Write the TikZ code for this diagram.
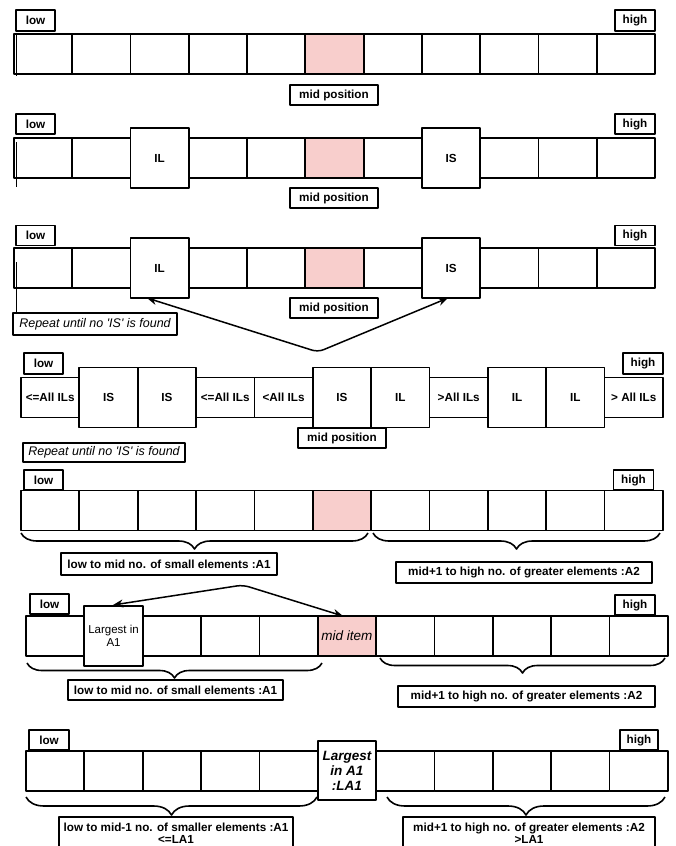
\documentclass[tikz,border=0pt]{standalone}
\usepackage{fontspec}
\setmainfont{Liberation Sans}
\usetikzlibrary{arrows.meta,decorations.pathreplacing}
\definecolor{midpink}{RGB}{248,206,204}
\tikzset{
 slot/.style={draw, line width=1.7pt, minimum width=58.4pt, minimum height=40pt, inner sep=0pt, outer sep=0pt, font=\fontsize{11.7}{13}\selectfont\bfseries},
 bigslot/.style={slot, fill=white, minimum height=60pt},
 tag/.style={draw, line width=1.6pt, minimum height=20pt, inner sep=0pt, outer sep=0pt, font=\fontsize{11.7}{12}\selectfont\bfseries, align=center},
 note/.style={tag, font=\fontsize{12.5}{14}\selectfont\itshape},
 arr/.style={line width=1.5pt, {Stealth[length=10pt,width=8pt]}-{Stealth[length=10pt,width=8pt]}, rounded corners=6pt},
 curly/.style={decorate, decoration={brace, mirror, amplitude=#1}, line width=1.6pt},
}
\begin{document}
\begin{tikzpicture}[x=1pt, y=-1pt, line join=round]
\useasboundingbox (0,0) rectangle (675,846);
% row 1
\foreach \i in {0,...,10} \node[slot] (ra\i) at ({14+58.27*(\i+0.5)},54) {};
\node[slot, fill=midpink] (ra5) at ({14+58.27*5.5},54) {};
\draw[line width=1pt] (16.5,34) -- (16.5,76);
\node[tag, minimum width=39pt, minimum height=21pt] (lowa) at (35.5,20.5) {low};
\node[tag, minimum width=40pt, minimum height=21pt] (higha) at (635,20.5) {high};
\node[tag, minimum width=88pt] (mida) at (334,95) {mid position};
% row 2
\foreach \i in {0,...,10} \node[slot] (rb\i) at ({14+58.27*(\i+0.5)},158) {};
\node[slot, fill=midpink] (rb5) at ({14+58.27*5.5},158) {};
\node[bigslot] (rb2) at ({14+58.27*2.5},158) {IL};
\node[bigslot] (rb7) at ({14+58.27*7.5},158) {IS};
\draw[line width=1pt] (16.5,142) -- (16.5,187);
\node[tag, minimum width=39pt] (lowb) at (35.5,124) {low};
\node[tag, minimum width=40pt] (highb) at (635,124) {high};
\node[tag, minimum width=88pt] (midb) at (334,198) {mid position};
% row 3
\foreach \i in {0,...,10} \node[slot] (rc\i) at ({14+58.27*(\i+0.5)},268) {};
\node[slot, fill=midpink] (rc5) at ({14+58.27*5.5},268) {};
\node[bigslot] (rc2) at ({14+58.27*2.5},268) {IL};
\node[bigslot] (rc7) at ({14+58.27*7.5},268) {IS};
\node[tag, minimum width=39pt] (lowc) at (35.5,235.5) {low};
\node[tag, minimum width=40pt] (highc) at (635,235.5) {high};
\node[tag, minimum width=88pt] (midc) at (334,308) {mid position};
\node[note, minimum width=164pt, minimum height=22pt] (repc) at (95,324) {Repeat until no \textquotesingle IS\textquotesingle{} is found};
\draw[line width=1pt] (16.5,262) -- (repc.north west -| 16.5,0);
\coordinate (vc) at (318,352);
\coordinate (lc) at (147,298);
\coordinate (rc) at (448,298);
\draw[arr] (lc) -- (vc) -- (rc);
% row 4
\foreach \t/\k [count=\i from 0] in {{<=All ILs}/slot, IS/bigslot, IS/bigslot, {<=All ILs}/slot, {<All ILs}/slot, IS/bigslot, IL/bigslot, {>All ILs}/slot, IL/bigslot, IL/bigslot, {> All ILs}/slot}
 \node[\k] (rd\i) at ({21+58.36*(\i+0.5)},397.5) {\t};
\node[tag, minimum width=39pt, minimum height=21pt] (lowd) at (43.5,363.5) {low};
\node[tag, minimum width=40pt, minimum height=21pt] (highd) at (643,363.5) {high};
\node[tag, minimum width=88pt, fill=white] (midd) at (342,438) {mid position};
\node[note, minimum width=162pt, minimum height=19pt] (repd) at (104,452.5) {Repeat until no \textquotesingle IS\textquotesingle{} is found};
% row 5
\foreach \i in {0,...,10} \node[slot] (re\i) at ({21+58.36*(\i+0.5)},510.5) {};
\node[slot, fill=midpink] (re5) at ({21+58.36*5.5},510.5) {};
\node[tag, minimum width=39pt] (lowe) at (43.5,480) {low};
\node[tag, minimum width=40pt] (highe) at (633.5,480) {high};
\draw[curly=16pt] (21,533) -- (368,533);
\draw[curly=16pt] (373,533) -- (660,533);
\node[tag, minimum width=216pt, minimum height=22pt] (ae) at (169,564) {low to mid no. of small elements :A1};
\node[tag, minimum width=256pt, minimum height=21pt] (be) at (524,572.5) {mid+1 to high no. of greater elements :A2};
% row 6
\foreach \i in {0,...,10} \node[slot] (rf\i) at ({26+58.36*(\i+0.5)},636) {};
\node[slot, fill=midpink, font=\fontsize{13.5}{15}\selectfont\itshape] (rf5) at ({26+58.36*5.5},636) {mid item};
\node[bigslot, font=\fontsize{11.5}{13}\selectfont, align=center] (rf1) at ({26+58.36*1.5},636) {Largest in\\A1};
\node[tag, minimum width=39pt] (lowf) at (49.5,604) {low};
\node[tag, minimum width=40pt] (highf) at (635,605) {high};
\coordinate (vf) at (243,585);
\coordinate (lf) at (113,605);
\coordinate (rf) at (343,616);
\draw[arr] (lf) -- (vf) -- (rf);
\draw[curly=15pt] (27,663) -- (322,663);
\draw[curly=15pt] (380,658) -- (665,658);
\node[tag, minimum width=215pt] (af) at (175.5,690) {low to mid no. of small elements :A1};
\node[tag, minimum width=257pt, minimum height=21pt] (bf) at (526.5,696.5) {mid+1 to high no. of greater elements :A2};
% row 7
\foreach \i in {0,...,10} \node[slot] (rg\i) at ({26+58.36*(\i+0.5)},771) {};
\node[bigslot, minimum height=59pt, font=\fontsize{13.5}{15}\selectfont\bfseries\itshape, align=center] (rg5) at ({26+58.36*5.5},770.5) {Largest\\in A1\\:LA1};
\node[tag, minimum width=40pt] (lowg) at (49,740) {low};
\node[tag, minimum width=38pt] (highg) at (639,740) {high};
\draw[curly=18pt] (26,797) -- (317,797);
\draw[curly=18pt] (387,797) -- (665,797);
\node[tag, minimum width=234pt, minimum height=33pt] (ag) at (176,833.5) {low to mid-1 no. of smaller elements :A1\\<=LA1};
\node[tag, minimum width=252pt, minimum height=33pt] (bg) at (529,833.5) {mid+1 to high no. of greater elements :A2\\>LA1};
\end{tikzpicture}
\end{document}
